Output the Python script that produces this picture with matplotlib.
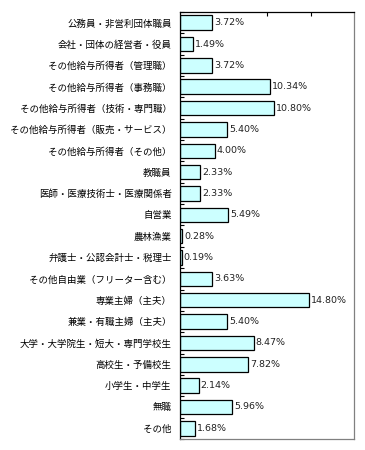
import matplotlib
matplotlib.use("Agg")
import matplotlib.pyplot as plt
from matplotlib.ticker import FixedLocator

plt.rcParams['font.family'] = ['Noto Sans CJK JP', 'DejaVu Sans']

categories = [
    "公務員・非営利団体職員",
    "会社・団体の経営者・役員",
    "その他給与所得者（管理職）",
    "その他給与所得者（事務職）",
    "その他給与所得者（技術・専門職）",
    "その他給与所得者（販売・サービス）",
    "その他給与所得者（その他）",
    "教職員",
    "医師・医療技術士・医療関係者",
    "自営業",
    "農林漁業",
    "弁護士・公認会計士・税理士",
    "その他自由業（フリーター含む）",
    "専業主婦（主夫）",
    "兼業・有職主婦（主夫）",
    "大学・大学院生・短大・専門学校生",
    "高校生・予備校生",
    "小学生・中学生",
    "無職",
    "その他",
]
values = [3.72, 1.49, 3.72, 10.34, 10.80, 5.40, 4.00, 2.33, 2.33, 5.49,
          0.28, 0.19, 3.63, 14.80, 5.40, 8.47, 7.82, 2.14, 5.96, 1.68]
value_ticks = [10, 15]

fig = plt.figure(figsize=(3.65, 4.5), dpi=100)
ax = fig.add_axes([180 / 365, 1 - 439 / 450, 174 / 365, 427 / 450])

n = len(categories)
y = list(range(n))
ax.barh(y, values, height=0.68, color="#CCFFFF", edgecolor="black", linewidth=0.9)
ax.set_xlim(0, 20)
ax.set_ylim(n - 0.5, -0.5)

for yi, v in zip(y, values):
    ax.text(v + 0.25, yi, f"{v:.2f}%", va="center", ha="left", fontsize=6.8,
            family=['DejaVu Sans'], color="#222222")

ax.set_yticks(y)
ax.set_yticklabels(categories, fontsize=6.8)
ax.yaxis.set_minor_locator(FixedLocator([i + 0.5 for i in range(-1, n)]))
ax.tick_params(axis='y', which='major', length=0, pad=6)
ax.tick_params(axis='y', which='minor', direction='in', length=3, width=0.8, color='black')

ax.xaxis.tick_top()
ax.set_xticks(value_ticks)
ax.set_xticklabels([])
ax.tick_params(axis='x', direction='in', length=3, width=0.8, color='black')

ax.spines['left'].set_color('black')
ax.spines['top'].set_color('black')
ax.spines['right'].set_color('#808080')
ax.spines['bottom'].set_color('#808080')
for s in ax.spines.values():
    s.set_linewidth(0.9)

fig.savefig("out.png", dpi=100)
